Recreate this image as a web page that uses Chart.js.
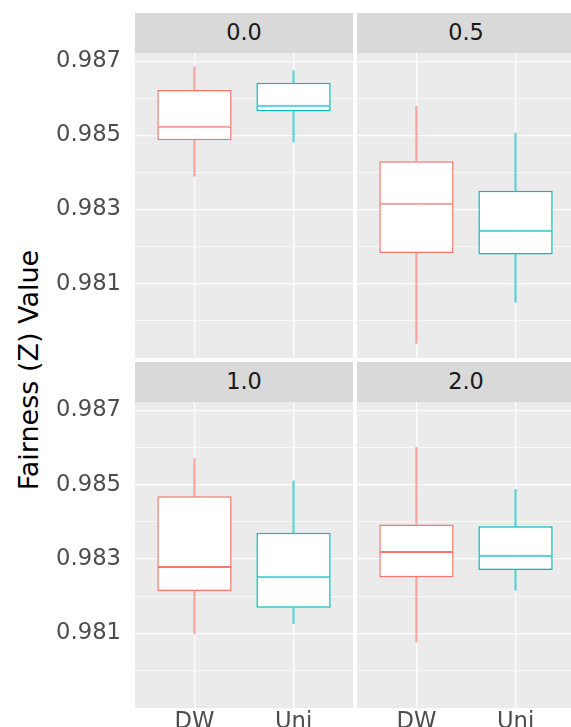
<!DOCTYPE html>
<html>
<head>
<meta charset="utf-8">
<script src="https://cdn.jsdelivr.net/npm/chart.js@4/dist/chart.umd.min.js"></script>
<style>
  html, body { margin: 0; padding: 0; background: #fff; }
  body { position: relative; width: 571px; height: 727px; overflow: hidden; font-family: 'DejaVu Sans', sans-serif; }
  canvas { position: absolute; }
  .strip { position: absolute; height: 40px; width: 218px; background: #D9D9D9; color: #1A1A1A;
           font-size: 22.4px; display: flex; align-items: center; justify-content: center; box-sizing: border-box; padding-bottom: 2px; }
  .ytitle { position: absolute; left: 27.7px; top: 370px; transform: translate(-50%, -50%) rotate(-90deg);
            font-size: 27px; line-height: 27px; white-space: nowrap; color: #000; }
</style>
</head>
<body>
<div class="ytitle">Fairness (Z) Value</div>
<script>
// Facets (weight setting) and the two groups compared within each facet
const facets = ['0.0', '0.5', '1.0', '2.0'];
const groups = ['DW', 'Uni'];

// Box-plot statistics per facet, as [DW, Uni]
const whiskerLow  = [[0.98390, 0.98482], [0.97939, 0.98050], [0.98099, 0.98127], [0.98077, 0.98216]];
const lowerQuart  = [[0.98487, 0.98565], [0.98183, 0.98179], [0.98214, 0.98169], [0.98251, 0.98271]];
const medians     = [[0.98523, 0.98580], [0.98316, 0.98243], [0.98279, 0.98251], [0.98319, 0.98309]];
const upperQuart  = [[0.98622, 0.98642], [0.98430, 0.98351], [0.98469, 0.98371], [0.98393, 0.98388]];
const whiskerHigh = [[0.98685, 0.98674], [0.98579, 0.98506], [0.98570, 0.98510], [0.98600, 0.98487]];

// Y axis: gridline values and which of them carry labels
const yGridValues = [0.980, 0.981, 0.982, 0.983, 0.984, 0.985, 0.986, 0.987];
const yTickLabels = ['0.981', '0.983', '0.985', '0.987'];
const yRange = [0.97900, 0.98722];
const xRange = [0.4, 2.6];

const groupColors = ['#F8766D', '#00BFC4'];
const whiskerColors = ['rgba(248,118,109,0.65)', 'rgba(0,191,196,0.65)'];

// Panel grid: columns and rows of the facet layout (canvas extends above the panel
// by topRoom so the highest tick label is not cut off)
const topRoom = 14;
const columns = [
  { canvasLeft: 0,   canvasWidth: 353, axisWidth: 135, stripLeft: 135 },
  { canvasLeft: 357, canvasWidth: 218, axisWidth: 0,   stripLeft: 357 }
];
const rows = [
  { stripTop: 13,  panelTop: 53,  panelHeight: 305, axisHeight: 0 },
  { stripTop: 362, panelTop: 402, panelHeight: 306, axisHeight: 19 }
];

const tickFont = { family: 'DejaVu Sans', size: 22.7, lineHeight: 1 };

const panelBackground = {
  id: 'panelBackground',
  beforeDraw(chart) {
    const { ctx, chartArea: a } = chart;
    ctx.save();
    ctx.fillStyle = '#EBEBEB';
    ctx.fillRect(a.left, a.top, a.right - a.left, a.bottom - a.top);
    ctx.restore();
  }
};

function noPadding(s) {
  s.paddingTop = 0; s.paddingBottom = 0; s.paddingLeft = 0; s.paddingRight = 0;
}

function series(f, lo, hi) {
  return groups.map((g, i) => ({ x: i + 1, y: [lo[f][i], hi[f][i]] }));
}

facets.forEach((label, f) => {
  const col = columns[f % 2];
  const row = rows[Math.floor(f / 2)];

  const canvas = document.createElement('canvas');
  canvas.width = col.canvasWidth;
  canvas.height = topRoom + row.panelHeight + row.axisHeight;
  canvas.style.left = col.canvasLeft + 'px';
  canvas.style.top = (row.panelTop - topRoom) + 'px';
  document.body.appendChild(canvas);

  const strip = document.createElement('div');
  strip.className = 'strip';
  strip.style.left = col.stripLeft + 'px';
  strip.style.top = row.stripTop + 'px';
  strip.textContent = label;
  document.body.appendChild(strip);

  const boxCommon = {
    backgroundColor: '#FFFFFF',
    borderColor: groupColors,
    borderSkipped: false,
    barPercentage: 0.75,
    categoryPercentage: 1,
    grouped: false
  };
  const whiskerCommon = {
    backgroundColor: whiskerColors,
    borderWidth: 0,
    barThickness: 1.5,
    grouped: false
  };

  new Chart(canvas.getContext('2d'), {
    type: 'bar',
    data: {
      datasets: [
        { ...whiskerCommon, data: series(f, whiskerLow, lowerQuart) },
        { ...whiskerCommon, data: series(f, upperQuart, whiskerHigh) },
        { ...boxCommon, data: series(f, lowerQuart, medians),
          borderWidth: { top: 1.0, bottom: 1.5, left: 1.5, right: 1.5 } },
        { ...boxCommon, data: series(f, medians, upperQuart),
          borderWidth: { top: 1.5, bottom: 1.0, left: 1.5, right: 1.5 } }
      ]
    },
    options: {
      responsive: false,
      animation: false,
      events: [],
      layout: { padding: { top: topRoom, left: 0, right: 0, bottom: 0 } },
      plugins: { legend: { display: false }, tooltip: { enabled: false }, title: { display: false } },
      scales: {
        x: {
          type: 'linear', min: xRange[0], max: xRange[1], bounds: 'data',
          offset: false,
          grid: { offset: false, color: '#FFFFFF', lineWidth: 1.3, drawTicks: false },
          border: { display: false },
          ticks: { display: row.axisHeight > 0, padding: 3, color: '#4D4D4D', font: tickFont,
                   autoSkip: false, maxRotation: 0, callback: v => groups[Math.round(v) - 1] },
          afterBuildTicks: s => { s.ticks = groups.map((g, i) => ({ value: i + 1 })); },
          afterFit: s => { s.height = row.axisHeight; noPadding(s); }
        },
        y: {
          type: 'linear', min: yRange[0], max: yRange[1], bounds: 'data', beginAtZero: false,
          grid: {
            color: '#FFFFFF', drawTicks: false,
            lineWidth: c => (c.tick && yTickLabels.includes(c.tick.value.toFixed(3))) ? 1.3 : 0.7
          },
          border: { display: false },
          ticks: { display: col.axisWidth > 0, padding: 14, color: '#4D4D4D', font: tickFont, autoSkip: false,
                   callback: v => { const s = v.toFixed(3); return yTickLabels.includes(s) ? s : ''; } },
          afterBuildTicks: s => { s.ticks = yGridValues.map(v => ({ value: v })); },
          afterFit: s => { s.width = col.axisWidth; noPadding(s); }
        }
      }
    },
    plugins: [panelBackground]
  });
});
</script>
</body>
</html>
